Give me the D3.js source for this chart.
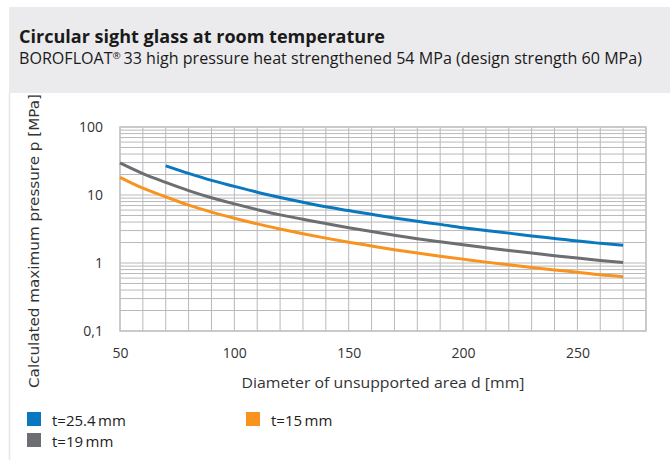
<!DOCTYPE html>
<html><head><meta charset="utf-8">
<script src="https://cdn.jsdelivr.net/npm/d3@7/dist/d3.min.js"></script>
<style>body{margin:0;background:#fff}svg{display:block}</style>
</head><body>
<svg id="c" width="670" height="462"></svg>
<script>
const diameters = [50,60,70,80,90,100,110,120,130,140,150,160,170,180,190,200,210,220,230,240,250,260,270];
const p254 = [null,null,26.9,20.8,16.4,13.4,11.0,9.2,7.8,6.7,5.9,5.2,4.6,4.1,3.7,3.3,3.0,2.75,2.5,2.3,2.1,1.95,1.82];
const p19  = [29.6,20.6,15.3,11.6,9.1,7.4,6.1,5.1,4.4,3.8,3.3,2.9,2.56,2.28,2.05,1.85,1.68,1.53,1.4,1.28,1.18,1.09,1.02];
const p15  = [18.2,12.6,9.4,7.1,5.6,4.55,3.76,3.16,2.69,2.32,2.02,1.78,1.57,1.4,1.26,1.14,1.03,0.94,0.86,0.79,0.73,0.67,0.63];
const seriesNames = ["t=25.4\u2009mm","t=19\u2009mm","t=15\u2009mm"];
const seriesColors = ["#0a78bf","#6d6e71","#f7931e"];
const xTicks = [50,100,150,200,250];
const yTicks = [0.1,1,10,100];
const yTickLabels = ["0,1","1","10","100"];

const svg = d3.select("#c");
const font = "'Open Sans', sans-serif";

// header band
svg.append("rect").attr("x",9).attr("y",7).attr("width",661).attr("height",86).attr("fill","#ebebed");
svg.append("line").attr("x1",9.5).attr("x2",9.5).attr("y1",93).attr("y2",460).attr("stroke","#e6e6e6").attr("stroke-width",1.5);

svg.append("text").attr("x",19).attr("y",43).attr("font-family",font).attr("font-weight",700)
  .attr("font-size",17.5).attr("fill","#1a1a1a").attr("textLength",366).attr("lengthAdjust","spacingAndGlyphs")
  .text("Circular sight glass at room temperature");
const sub = svg.append("text").attr("x",19).attr("y",64).attr("font-family",font)
  .attr("font-size",15.5).attr("fill","#1a1a1a").attr("textLength",623).attr("lengthAdjust","spacingAndGlyphs");
sub.append("tspan").text("BOROFLOAT");
sub.append("tspan").attr("font-size",9.5).attr("dy",-5.5).text("\u00AE");
sub.append("tspan").attr("dy",5.5).text("\u200933 high pressure heat strengthened 54 MPa (design strength 60 MPa)");

const x = d3.scaleLinear().domain([50,280]).range([120,646]);
const y = d3.scaleLog().domain([0.1,100]).range([331,127]);

const g = svg.append("g");
// vertical grid
const vx = d3.range(50,281,10);
g.selectAll(".vg").data(vx).join("line")
  .attr("x1",d=>x(d)).attr("x2",d=>x(d)).attr("y1",y(100)).attr("y2",y(0.1))
  .attr("stroke","#b9b9bb").attr("stroke-width",1);
// horizontal grid
const hy = [];
[0.1,1,10].forEach(dec=>{ for(let k=1;k<10;k++) hy.push(dec*k); });
hy.push(100);
g.selectAll(".hg").data(hy).join("line")
  .attr("x1",x(50)).attr("x2",x(280)).attr("y1",d=>y(d)).attr("y2",d=>y(d))
  .attr("stroke","#b9b9bb").attr("stroke-width",1);
// border
g.append("rect").attr("x",x(50)).attr("y",y(100)).attr("width",x(280)-x(50)).attr("height",y(0.1)-y(100))
  .attr("fill","none").attr("stroke","#c4c4c6").attr("stroke-width",1.5);

// axes (labels only)
const xAxis = d3.axisBottom(x).tickValues(xTicks).tickSize(0).tickPadding(0);
const xa = svg.append("g").attr("transform",`translate(0,${y(0.1)+22})`).call(xAxis);
xa.select(".domain").remove();
xa.selectAll("text").attr("font-family",font).attr("font-size",14).attr("fill","#333").attr("dy","0.35em");

const yAxis = d3.axisLeft(y).tickValues(yTicks).tickFormat((d,i)=>yTickLabels[i]).tickSize(0).tickPadding(0);
const ya = svg.append("g").attr("transform",`translate(${103},0)`).call(yAxis);
ya.select(".domain").remove();
ya.selectAll("text").attr("font-family",font).attr("font-size",14).attr("fill","#333");

svg.append("text").attr("x",383).attr("y",388).attr("text-anchor","middle").attr("font-family",font)
  .attr("font-size",14.5).attr("fill","#333").attr("textLength",283).attr("lengthAdjust","spacingAndGlyphs")
  .text("Diameter of unsupported area d [mm]");
svg.append("text").attr("transform","translate(39,241) rotate(-90)").attr("text-anchor","middle")
  .attr("font-family","'DejaVu Sans', sans-serif").attr("font-size",13.5).attr("fill","#333")
  .attr("textLength",294).attr("lengthAdjust","spacingAndGlyphs")
  .text("Calculated maximum pressure p [MPa]");

// lines
const line = d3.line().defined(d=>d[1]!=null).x(d=>x(d[0])).y(d=>y(d[1])).curve(d3.curveMonotoneX);
[p254,p19,p15].forEach((arr,i)=>{
  svg.append("path").datum(diameters.map((d,j)=>[d,arr[j]]))
    .attr("d",line).attr("fill","none").attr("stroke",seriesColors[i]).attr("stroke-width",3);
});

// legend
const leg = [{i:0,x:27,y:412},{i:1,x:27,y:433},{i:2,x:246,y:412}];
leg.forEach(o=>{
  svg.append("rect").attr("x",o.x).attr("y",o.y).attr("width",14).attr("height",14).attr("fill",seriesColors[o.i]);
  svg.append("text").attr("x",o.x+25).attr("y",o.y+13.5).attr("font-family",font).attr("font-size",15)
    .attr("fill","#222").text(seriesNames[o.i]);
});
</script>
</body></html>
